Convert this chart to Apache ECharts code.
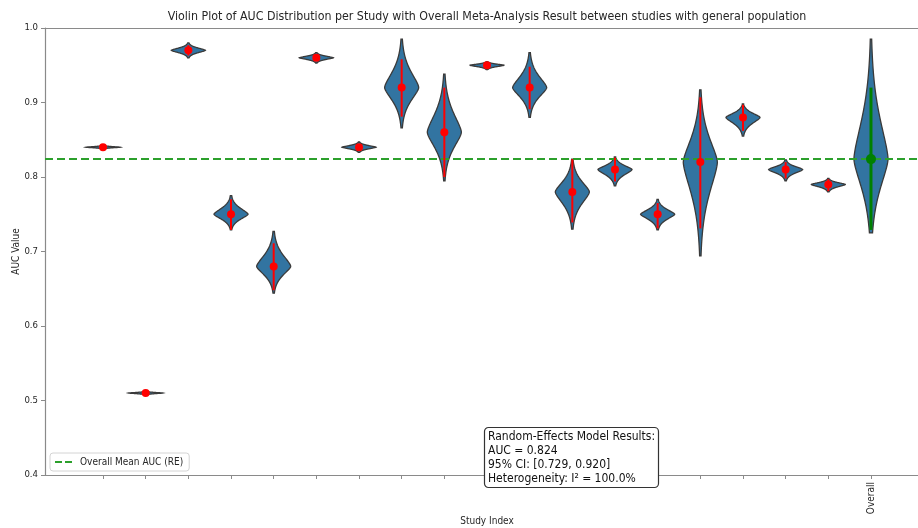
<!DOCTYPE html>
<html>
<head>
<meta charset="utf-8">
<script src="https://cdn.jsdelivr.net/npm/echarts@6/dist/echarts.min.js"></script>
<style>html,body{margin:0;padding:0;background:#fff;overflow:hidden}#c{width:918px;height:528px}</style>
</head>
<body>
<div id="c"></div>
<script>
// ---- data ----
const tickLabels = ['', '', '', '', '', '', '', '', '', '', '', '', '', '', '', '', '', '', 'Overall'];
const studyMeans = [0.84, 0.51, 0.97, 0.75, 0.68, 0.96, 0.84, 0.92, 0.86, 0.95, 0.92, 0.78, 0.81, 0.75, 0.82, 0.88, 0.81, 0.79];
const studyCILow  = [0.839, 0.509, 0.963, 0.729, 0.648, 0.956, 0.836, 0.881, 0.800, 0.946, 0.891, 0.739, 0.794, 0.731, 0.731, 0.862, 0.798, 0.781];
const studyCIHigh = [0.841, 0.511, 0.977, 0.770, 0.711, 0.964, 0.844, 0.958, 0.920, 0.954, 0.948, 0.824, 0.826, 0.765, 0.907, 0.897, 0.820, 0.797];
const violinLow   = [0.8375, 0.5075, 0.960, 0.729, 0.644, 0.953, 0.833, 0.866, 0.795, 0.944, 0.880, 0.730, 0.788, 0.729, 0.694, 0.855, 0.795, 0.780];
const violinHigh  = [0.8425, 0.5125, 0.980, 0.775, 0.727, 0.967, 0.847, 0.985, 0.938, 0.955, 0.967, 0.824, 0.827, 0.770, 0.917, 0.898, 0.823, 0.798];
const overallMean = 0.824;
const overallCI = [0.729, 0.920];
const overallViolin = [0.725, 0.985];
const heterogeneityI2 = 100.0;
const yTicks = [0.4, 0.5, 0.6, 0.7, 0.8, 0.9, 1.0];

// ---- build series data ----
const overallIdx = tickLabels.length - 1;
// [x, centre, low end, high end, lower-tail decay, upper-tail decay]
const violinData = studyMeans.map((m, i) => [i, m, violinLow[i], violinHigh[i], 3.2, 3.2]);
violinData.push([overallIdx, overallMean, overallViolin[0], overallViolin[1], 2.4, 3.2]);
const ciData = studyMeans.map((m, i) => [i, studyCILow[i], studyCIHigh[i]]);
const overallCIData = [[overallIdx, overallCI[0], overallCI[1]]];
const dotData = studyMeans.map((m, i) => [i, m]);
const overallDot = [[overallIdx, overallMean]];

const XMIN = -1.36, XMAX = overallIdx + 1.36;
const FONT = "'DejaVu Sans Condensed','DejaVu Sans',sans-serif";
const TXT = '#262626';
const SPINE = '#8a8a8a';

const HALF = 0.4, NPTS = 80, POW = 1.5;
function renderViolin(params, api) {
  const x = api.value(0), m = api.value(1), lo = api.value(2), hi = api.value(3);
  const cLo = api.value(4), cHi = api.value(5);
  const right = [], left = [];
  for (let i = 0; i <= NPTS; i++) {
    const y = lo + (hi - lo) * i / NPTS;
    const L = Math.max(y >= m ? hi - m : m - lo, 1e-6);
    const c = y >= m ? cHi : cLo;
    const w = HALF * Math.exp(-c * Math.pow(Math.abs(y - m) / L, POW));
    right.push(api.coord([x + w, y]));
    left.unshift(api.coord([x - w, y]));
  }
  return {
    type: 'polygon',
    shape: { points: right.concat(left) },
    style: { fill: '#3274a1', stroke: '#3a3a3a', lineWidth: 1.3 }
  };
}
function makeCIRender(color, width) {
  return function (params, api) {
    const a = api.coord([api.value(0), api.value(1)]);
    const b = api.coord([api.value(0), api.value(2)]);
    return { type: 'line', shape: { x1: a[0], y1: a[1], x2: b[0], y2: b[1] }, style: { stroke: color, lineWidth: width } };
  };
}

const boxText = [
  'Random-Effects Model Results:',
  'AUC = ' + overallMean.toFixed(3),
  '95% CI: [' + overallCI[0].toFixed(3) + ', ' + overallCI[1].toFixed(3) + ']',
  'Heterogeneity: I\u00b2 = ' + heterogeneityI2.toFixed(1) + '%'
].join('\n');

const chart = echarts.init(document.getElementById('c'), null, { renderer: 'canvas' });
chart.setOption({
  animation: false,
  backgroundColor: '#fff',
  title: [
    {
      text: 'Violin Plot of AUC Distribution per Study with Overall Meta-Analysis Result between studies with general population',
      left: 487, top: 11, padding: 0, textAlign: 'center',
      textStyle: { fontFamily: FONT, fontSize: 12.3, fontWeight: 'normal', color: TXT }
    },
    {
      text: boxText,
      left: 484, top: 427, padding: [3, 4, 2, 4],
      backgroundColor: '#fff', borderColor: '#333', borderWidth: 1.2, borderRadius: 4,
      z: 10,
      textStyle: { fontFamily: FONT, fontSize: 12, fontWeight: 'normal', color: '#111', lineHeight: 14 }
    }
  ],
  legend: {
    data: [{ name: 'Overall Mean AUC (RE)', icon: 'path://M0,0H7V2H0Z M10,0H17V2H10Z' }],
    left: 50, top: 453,
    padding: [4, 6, 4, 5],
    itemWidth: 17, itemHeight: 2, itemGap: 8,
    borderColor: '#d4d4d4', borderWidth: 1, borderRadius: 3,
    backgroundColor: '#fff',
    textStyle: { fontFamily: FONT, fontSize: 10, color: TXT, padding: [0, 0, 0, 3] }
  },
  grid: { left: 45, right: -11, top: 28, bottom: 53, containLabel: false, outerBoundsMode: 'none' },
  xAxis: [
    {
      type: 'value', min: XMIN, max: XMAX, position: 'bottom',
      name: 'Study Index', nameLocation: 'middle', nameGap: 41, nameMoveOverlap: false,
      nameTextStyle: { fontFamily: FONT, fontSize: 10, color: TXT },
      splitLine: { show: false },
      axisLine: { show: true, onZero: false, lineStyle: { color: SPINE, width: 1.2 } },
      axisTick: { show: true, length: 4, lineStyle: { color: SPINE }, customValues: tickLabels.map((t, i) => i) },
      axisLabel: {
        show: true, customValues: [overallIdx], rotate: 90, margin: 7,
        fontFamily: FONT, fontSize: 10, color: TXT,
        formatter: v => tickLabels[Math.round(v)] || ''
      }
    },
    {
      type: 'value', min: XMIN, max: XMAX, position: 'top',
      axisLine: { show: true, onZero: false, lineStyle: { color: SPINE, width: 1.2 } },
      axisTick: { show: false }, axisLabel: { show: false }, splitLine: { show: false }
    }
  ],
  yAxis: {
    type: 'value', min: yTicks[0], max: yTicks[yTicks.length - 1], interval: 0.1,
    name: 'AUC Value', nameLocation: 'middle', nameGap: 24, nameMoveOverlap: false,
    nameTextStyle: { fontFamily: FONT, fontSize: 10, color: TXT },
    splitLine: { show: false },
    axisLine: { show: true, onZero: false, lineStyle: { color: SPINE, width: 1.2 } },
    axisTick: { show: true, length: 4, lineStyle: { color: SPINE } },
    axisLabel: { margin: 7, fontFamily: FONT, fontSize: 9.5, color: TXT, formatter: v => v.toFixed(1) }
  },
  series: [
    { type: 'custom', name: 'violins', renderItem: renderViolin, data: violinData, z: 2, clip: true,
      encode: { x: 0, y: [1, 2, 3] } },
    { type: 'line', name: 'Overall Mean AUC (RE)', data: [[XMIN, overallMean], [XMAX, overallMean]],
      symbol: 'none', z: 3, lineStyle: { color: '#2ca02c', width: 2, type: [8, 4] }, itemStyle: { color: '#2ca02c' } },
    { type: 'custom', name: 'ci', renderItem: makeCIRender('#ff0000', 2), data: ciData, z: 4,
      encode: { x: 0, y: [1, 2] } },
    { type: 'custom', name: 'overallCI', renderItem: makeCIRender('#008000', 3), data: overallCIData, z: 4,
      encode: { x: 0, y: [1, 2] } },
    { type: 'scatter', name: 'means', data: dotData, symbolSize: 8, itemStyle: { color: '#ff0000', opacity: 1 }, z: 5 },
    { type: 'scatter', name: 'overall', data: overallDot, symbolSize: 10, itemStyle: { color: '#008000', opacity: 1 }, z: 5 }
  ]
});
</script>
</body>
</html>
